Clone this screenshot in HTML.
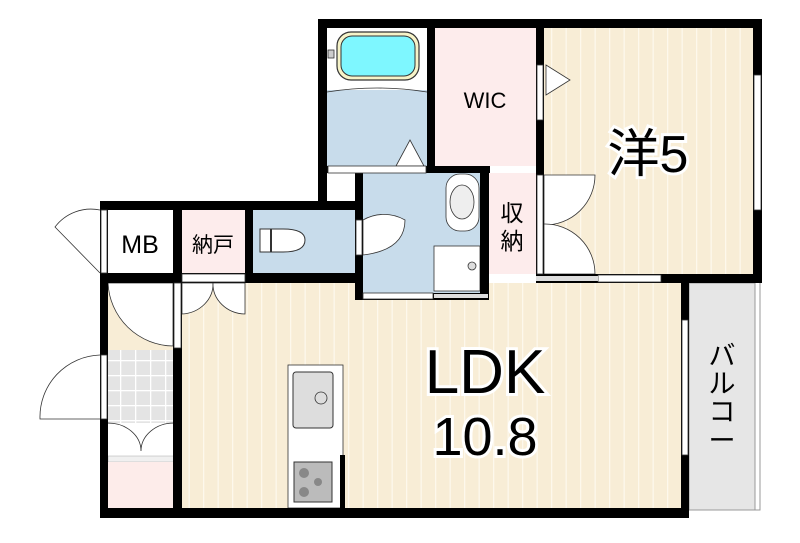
<!DOCTYPE html>
<html><head><meta charset="utf-8"><style>
html,body{margin:0;padding:0;background:#fff;}
svg{display:block;}
text{font-family:"Liberation Sans","Noto Sans CJK JP",sans-serif;}
</style></head><body>
<svg width="800" height="543" viewBox="0 0 800 543" xmlns="http://www.w3.org/2000/svg">
<defs>
<pattern id="fl" width="14.5" height="10" patternUnits="userSpaceOnUse">
<rect width="14.5" height="10" fill="#f8edd6"/><rect x="0" width="1.3" height="10" fill="#fdf8ec"/>
</pattern>
<pattern id="tile" width="15" height="15" patternUnits="userSpaceOnUse">
<rect width="15" height="15" fill="#e4e4e4"/><rect width="15" height="1.3" fill="#fff"/><rect width="1.3" height="15" fill="#fff"/>
</pattern>
</defs>
<rect x="544" y="28" width="209" height="246" fill="url(#fl)"/>
<rect x="182" y="283" width="499" height="226" fill="url(#fl)"/>
<rect x="108" y="283" width="66" height="67" fill="#f8edd6"/>
<rect x="108" y="350" width="66" height="74" fill="url(#tile)"/>
<rect x="108" y="424" width="66" height="32" fill="#fff"/>
<rect x="108" y="456" width="66" height="6" fill="#f0f0f0" stroke="#aaa" stroke-width="0.5"/>
<rect x="108" y="462" width="66" height="47" fill="#fdecea"/>
<rect x="435" y="28" width="101" height="138" fill="#fdecec"/>
<rect x="489" y="173" width="47" height="101" fill="#fdecec"/>
<rect x="182" y="210" width="64" height="64" fill="#fdecec"/>
<rect x="327" y="28" width="100" height="62" fill="#fff"/>
<rect x="327" y="90" width="100" height="76" fill="#c8dceb"/>
<rect x="363" y="173" width="117" height="120" fill="#c8dceb"/>
<rect x="253" y="210" width="102" height="64" fill="#c8dceb"/>
<rect x="689" y="283" width="66" height="227" fill="#e6e6e6" stroke="#999" stroke-width="1"/>
<path d="M689 510 H760 V283" fill="none" stroke="#999" stroke-width="1"/>
<rect x="337" y="32" width="82" height="48" rx="14" fill="#f6f3c8" stroke="#333" stroke-width="1.2"/>
<rect x="341" y="36" width="74" height="40" rx="11" fill="#7ef7ff" stroke="#333" stroke-width="1"/>
<path d="M327 92 Q377 84 427 92" fill="none" stroke="#333" stroke-width="0.8"/>
<rect x="328" y="50" width="6" height="8" fill="#ccc" stroke="#333" stroke-width="0.8"/>
<polygon points="396,166 410,140 424,166" fill="#fff" stroke="#333" stroke-width="0.8"/>
<polygon points="546,65 570,80 546,95" fill="#fff" stroke="#333" stroke-width="0.8"/>
<rect x="446" y="174" width="33" height="57" rx="14" fill="#fff" stroke="#333" stroke-width="0.8"/>
<ellipse cx="462" cy="202" rx="12" ry="17" fill="#eee" stroke="#333" stroke-width="0.8"/>
<rect x="434" y="246" width="46" height="45" fill="#fff" stroke="#333" stroke-width="0.8"/>
<circle cx="472" cy="266" r="4" fill="#ddd" stroke="#333" stroke-width="0.8"/>
<path d="M260 229 H283 Q305 229 305 240 Q305 252 283 252 H260 Z" fill="#fff" stroke="#333" stroke-width="1"/>
<rect x="270" y="229" width="2" height="23" fill="#333"/>
<path d="M363 255 V220 A42 42 0 0 1 405 220 Q405 250 363 255" fill="#fff" stroke="#333" stroke-width="0.8"/>
<path d="M544 175 H595 A50 50 0 0 1 544 225 Z" fill="#fff" stroke="#333" stroke-width="0.8"/>
<path d="M544 224 A50 50 0 0 1 595 274 H544 Z" fill="#fff" stroke="#333" stroke-width="0.8"/>
<path d="M182 283 V314 A33 30 0 0 0 213 283 Z" fill="#fff" stroke="#333" stroke-width="0.8"/>
<path d="M245 283 V314 A33 30 0 0 1 213 283 Z" fill="#fff" stroke="#333" stroke-width="0.8"/>
<path d="M108 283 A66 66 0 0 0 173 346 V283 Z" fill="#fff" stroke="#333" stroke-width="0.8"/>
<path d="M108 423 A33 28 0 0 1 141 451 A33 28 0 0 1 174 423" fill="#fff" stroke="#333" stroke-width="0.8"/>
<path d="M100 355 A62 62 0 0 0 40 419 H100" fill="#fff" stroke="#333" stroke-width="0.8"/>
<path d="M100 210 A45 45 0 0 0 55 227 L100 273" fill="#fff" stroke="#333" stroke-width="0.8"/>
<rect x="288" y="365" width="55" height="143" fill="#fff" stroke="#333" stroke-width="0.8"/>
<rect x="293" y="372" width="40" height="56" rx="3" fill="#ddd" stroke="#333" stroke-width="1"/>
<circle cx="321" cy="398" r="6" fill="#ddd" stroke="#333" stroke-width="0.8"/>
<rect x="294" y="462" width="38" height="40" fill="#bbb" stroke="#333" stroke-width="1"/>
<circle cx="304" cy="473" r="5" fill="#888"/><circle cx="304" cy="492" r="5" fill="#888"/><circle cx="318" cy="482" r="4" fill="#888"/>
<g fill="#000">
<rect x="318" y="19" width="444" height="9"/>
<rect x="318" y="19" width="9" height="190"/>
<rect x="753" y="19" width="9" height="264"/>
<rect x="427" y="28" width="8" height="145"/>
<rect x="536" y="28" width="8" height="255"/>
<rect x="327" y="166" width="163" height="7"/>
<rect x="355" y="173" width="8" height="127"/>
<rect x="480" y="173" width="9" height="127"/>
<rect x="100" y="201" width="255" height="9"/>
<rect x="100" y="201" width="8" height="317"/>
<rect x="173" y="201" width="9" height="317"/>
<rect x="245" y="201" width="8" height="82"/>
<rect x="100" y="273" width="263" height="10"/>
<rect x="536" y="274" width="226" height="9"/>
<rect x="681" y="274" width="8" height="244"/>
<rect x="100" y="508" width="589" height="10"/>
<rect x="340" y="455" width="5" height="53"/>
<rect x="355" y="293" width="133" height="7"/>
</g>
<g fill="#fff" stroke="#333" stroke-width="0.8">
<rect x="537" y="65" width="6" height="55"/>
<rect x="754" y="75" width="7" height="135"/>
<rect x="598" y="275" width="63" height="7"/>
<rect x="682" y="320" width="6" height="135"/>
<rect x="174" y="283" width="7" height="65"/>
<rect x="101" y="355" width="6" height="64"/>
<rect x="101" y="210" width="6" height="63"/>
<rect x="356" y="220" width="6" height="35"/>
<rect x="537" y="175" width="6" height="99"/>
<rect x="363" y="293" width="70" height="6"/>
<rect x="328" y="166" width="98" height="7"/>
<rect x="182" y="274" width="63" height="8"/>
</g>
<rect x="536" y="276" width="62" height="5" fill="#ddd"/>
<rect x="434" y="294" width="54" height="4" fill="#ddd"/>
<text x="485" y="108" font-size="22" text-anchor="middle">WIC</text>
<text x="140" y="253" font-size="25" text-anchor="middle">MB</text>
<text x="213" y="252" font-size="21" text-anchor="middle">納戸</text>
<text x="512" y="221" font-size="23" text-anchor="middle">収</text>
<text x="512" y="249" font-size="23" text-anchor="middle">納</text>
<text x="648" y="172" font-size="52" text-anchor="middle" stroke="#fff" stroke-width="6" paint-order="stroke">洋5</text>
<text x="485" y="393" font-size="62" text-anchor="middle" stroke="#fff" stroke-width="6" paint-order="stroke">LDK</text>
<text x="485" y="455" font-size="54" text-anchor="middle" stroke="#fff" stroke-width="6" paint-order="stroke">10.8</text>
<g font-size="27" text-anchor="middle"><text x="722" y="365">バ</text><text x="722" y="393">ル</text><text x="722" y="421">コ</text><text x="722" y="450">ー</text></g>
</svg>
</body></html>
